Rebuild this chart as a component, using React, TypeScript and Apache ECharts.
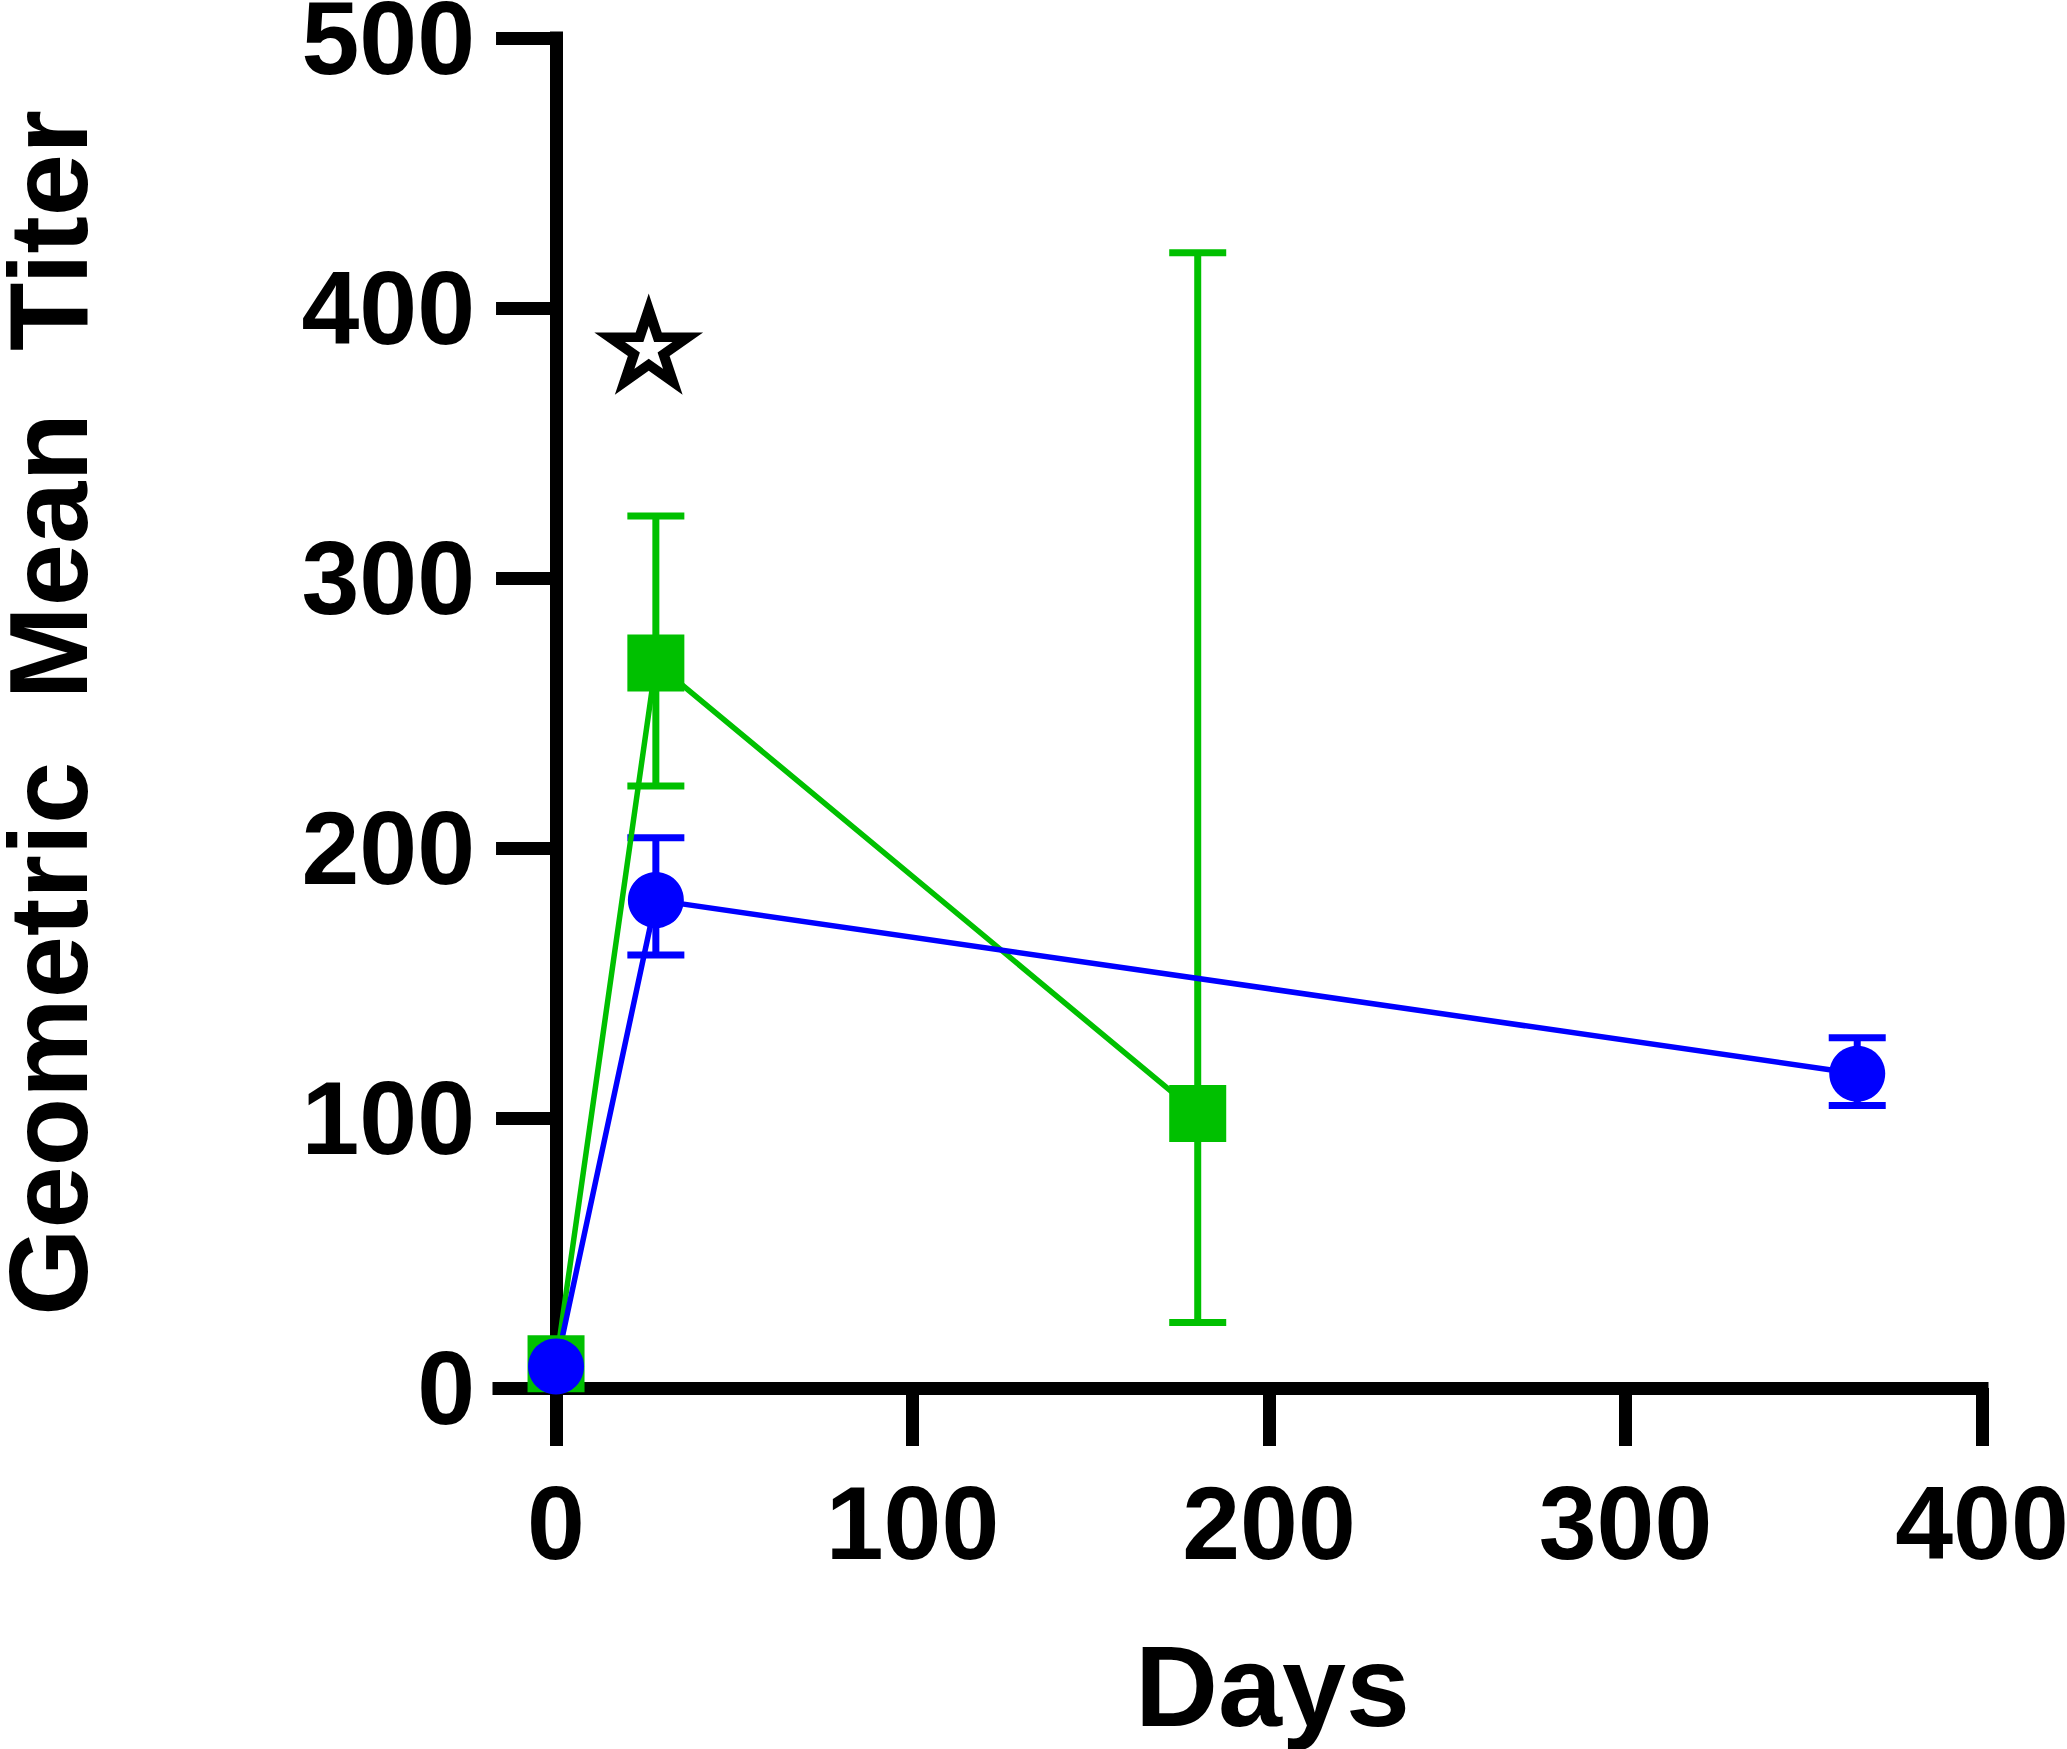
import React, { useEffect, useRef } from "react";
import * as echarts from "echarts";

// ---- data ----
const xTickValues = [0, 100, 200, 300, 400];

const greenDays = [0, 28, 180];
const greenGMT = [9, 268.5, 101.7];
const greenLower = [9, 223, 24.3];
const greenUpper = [9, 323, 420.5];

const blueDays = [0, 28, 365];
const blueGMT = [8, 180.7, 116.4];
const blueLower = [8, 160.4, 104.6];
const blueUpper = [8, 203.8, 129.7];

const starPoint = [26, 386];

const GREEN = "#00C000";
const BLUE = "#0000FF";
const FONT = "'Liberation Sans', Arial, Helvetica, sans-serif";

const STAR_PATH =
  "path://M50,0 L61.23,34.55 L97.55,34.55 L68.16,55.9 L79.39,90.45 L50,69.1 L20.61,90.45 L31.84,55.9 L2.45,34.55 L38.77,34.55 Z";

function errorBarSeries(days: number[], lo: number[], hi: number[], color: string) {
  const data = days
    .map((d, i) => [d, lo[i], hi[i]])
    .filter((r) => r[1] !== r[2]);
  return {
    type: "custom",
    data,
    clip: false,
    encode: { x: 0, y: [1, 2] },
    renderItem: (params: any, api: any) => {
      const x = api.value(0);
      const pLo = api.coord([x, api.value(1)]);
      const pHi = api.coord([x, api.value(2)]);
      const half = 28.5;
      const style = { stroke: color, lineWidth: 7, fill: "none" };
      return {
        type: "group",
        children: [
          { type: "line", shape: { x1: pLo[0], y1: pLo[1], x2: pHi[0], y2: pHi[1] }, style },
          { type: "line", shape: { x1: pHi[0] - half, y1: pHi[1], x2: pHi[0] + half, y2: pHi[1] }, style },
          { type: "line", shape: { x1: pLo[0] - half, y1: pLo[1], x2: pLo[0] + half, y2: pLo[1] }, style },
        ],
      };
    },
  };
}

export default function App() {
  const ref = useRef<HTMLDivElement>(null);

  useEffect(() => {
    if (!ref.current) return;
    const chart = echarts.init(ref.current, null, { renderer: "svg" });
    const axisLineStyle = { color: "#000", width: 13, cap: "square" };
    const tickStyle = { color: "#000", width: 13 };
    const labelStyle = { color: "#000", fontWeight: "bold", fontFamily: FONT, fontSize: 104 };

    chart.setOption({
      animation: false,
      backgroundColor: "#fff",
      grid: {
        left: 499,
        top: 38,
        width: 1483,
        height: 1350,
        containLabel: false,
        outerBoundsMode: "none",
      },
      xAxis: {
        type: "value",
        min: -16,
        max: 400,
        name: "Days",
        nameLocation: "middle",
        nameGap: 240,
        nameTextStyle: {
          color: "#000",
          fontWeight: "bold",
          fontFamily: FONT,
          fontSize: 115,
          padding: [0, 0, 0, 64],
        },
        axisLine: { show: true, onZero: true, lineStyle: axisLineStyle },
        axisTick: { show: true, length: 58, customValues: xTickValues, lineStyle: tickStyle },
        axisLabel: { ...labelStyle, margin: 83, customValues: xTickValues },
        splitLine: { show: false },
      },
      yAxis: {
        type: "value",
        min: 0,
        max: 500,
        interval: 100,
        name: "Geometric \u00A0Mean \u00A0Titer",
        nameLocation: "middle",
        nameGap: 403,
        nameRotate: 90,
        nameTextStyle: {
          color: "#000",
          fontWeight: "bold",
          fontFamily: FONT,
          fontSize: 112,
          lineHeight: 96,
        },
        axisLine: { show: true, onZero: true, lineStyle: axisLineStyle },
        axisTick: { show: true, length: 60, lineStyle: tickStyle },
        axisLabel: { ...labelStyle, margin: 24, lineHeight: 72 },
        splitLine: { show: false },
      },
      series: [
        errorBarSeries(greenDays, greenLower, greenUpper, GREEN),
        {
          type: "line",
          data: greenDays.map((d, i) => [d, greenGMT[i]]),
          symbol: "rect",
          symbolSize: 57,
          clip: false,
          itemStyle: { color: GREEN },
          lineStyle: { color: GREEN, width: 5.5 },
        },
        errorBarSeries(blueDays, blueLower, blueUpper, BLUE),
        {
          type: "line",
          data: blueDays.map((d, i) => [d, blueGMT[i]]),
          symbol: "circle",
          symbolSize: 56,
          clip: false,
          itemStyle: { color: BLUE },
          lineStyle: { color: BLUE, width: 5.5 },
        },
        {
          type: "scatter",
          data: [starPoint],
          symbol: STAR_PATH,
          symbolSize: [78, 72],
          clip: false,
          itemStyle: {
            color: "#fff",
            opacity: 1,
            borderColor: "#000",
            borderWidth: 10,
            borderJoin: "miter",
            borderMiterLimit: 10,
          },
        },
      ],
    });
    return () => chart.dispose();
  }, []);

  return (
    <div
      ref={ref}
      style={{ position: "absolute", left: 0, top: 0, width: 2067, height: 1749, background: "#fff" }}
    />
  );
}
